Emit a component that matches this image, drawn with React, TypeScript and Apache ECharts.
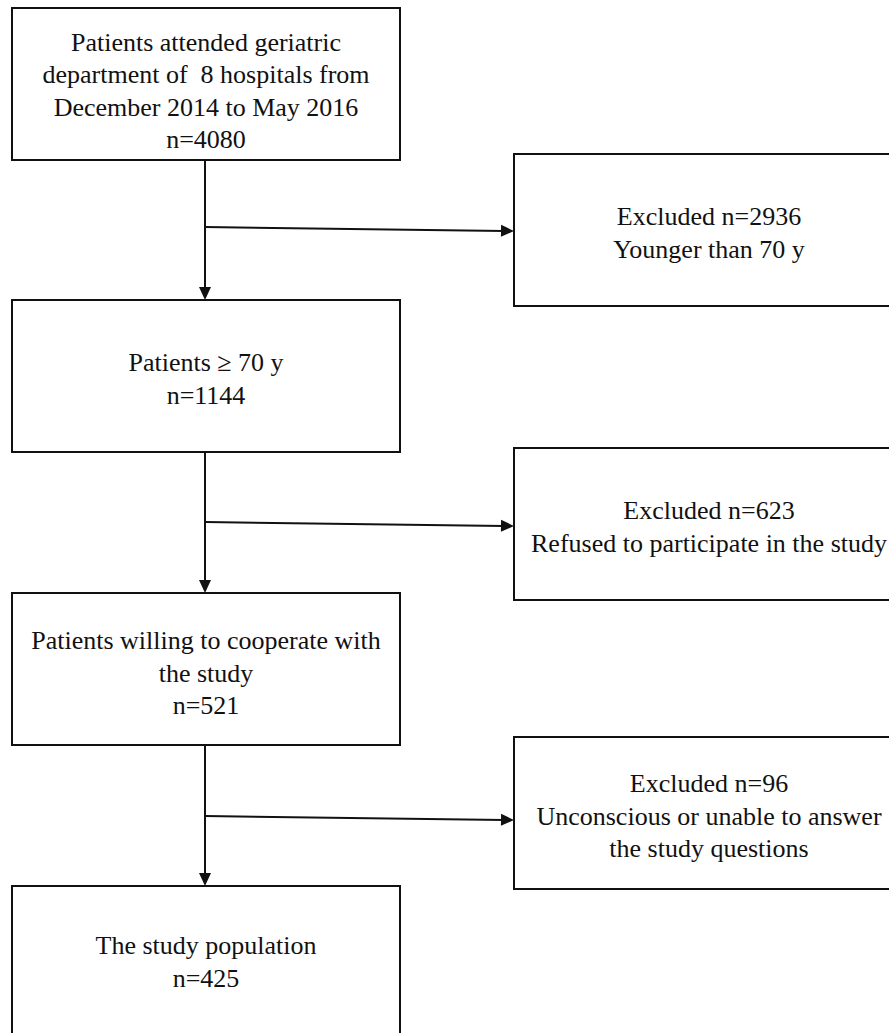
import React, { useEffect, useRef } from "react";
import * as echarts from "echarts";

// ---- data ----
const stepTitles: string[][] = [
  ["Patients attended geriatric", "department of  8 hospitals from", "December 2014 to May 2016"],
  ["Patients \u2265 70 y"],
  ["Patients willing to cooperate with", "the study"],
  ["The study population"],
];
const stepCounts: number[] = [4080, 1144, 521, 425];
const excludedCounts: number[] = [2936, 623, 96];
const excludedReasons: string[][] = [
  ["Younger than 70 y"],
  ["Refused to participate in the study"],
  ["Unconscious or unable to answer", "the study questions"],
];

// ---- layout ----
const LEFT_X = 12;
const LEFT_W = 388;
const BOX_H = 152;
const LEFT_TOPS = [8, 300, 593, 886];
const LEFT_TEXT_DY = [7, 3, 4, 0];
const RIGHT_X = 514;
const RIGHT_W = 390;
const RIGHT_TOPS = [154, 448, 737];
const RIGHT_TEXT_DY = [3, 3, 3];
const TRUNK_X = 205;
const BRANCH_Y0 = [227, 522, 816];
const BRANCH_DY = 4;
const FONT = '26px "Liberation Serif", "Times New Roman", serif';
const LINE_H = 32.5;
const INK = "#111";

function arrowHead(tipX: number, tipY: number, dx: number, dy: number, len = 13, half = 6) {
  const l = Math.hypot(dx, dy);
  const ux = dx / l, uy = dy / l;
  const bx = tipX - ux * len, by = tipY - uy * len;
  const px = -uy, py = ux;
  return {
    type: "polygon",
    shape: { points: [[tipX, tipY], [bx + px * half, by + py * half], [bx - px * half, by - py * half]] },
    style: { fill: INK },
    silent: true,
  };
}

function box(x: number, y: number, w: number, h: number, lines: string[], dy: number) {
  return [
    {
      type: "rect",
      shape: { x, y, width: w, height: h },
      style: { fill: "#fff", stroke: INK, lineWidth: 2 },
      silent: true,
    },
    {
      type: "text",
      x: x + w / 2,
      y: y + h / 2 + dy,
      style: {
        text: lines.join("\n"),
        font: FONT,
        fill: INK,
        align: "center",
        verticalAlign: "middle",
        lineHeight: LINE_H,
      },
      silent: true,
    },
  ];
}

export default function App() {
  const ref = useRef<HTMLDivElement>(null);
  useEffect(() => {
    if (!ref.current) return;
    const chart = echarts.init(ref.current, null, { renderer: "svg" });
    const elements: any[] = [];

    // vertical arrows
    for (let i = 0; i < LEFT_TOPS.length - 1; i++) {
      const y0 = LEFT_TOPS[i] + BOX_H;
      const y1 = LEFT_TOPS[i + 1];
      elements.push({
        type: "line",
        shape: { x1: TRUNK_X, y1: y0, x2: TRUNK_X, y2: y1 - 10 },
        style: { stroke: INK, lineWidth: 2 },
        silent: true,
      });
      elements.push(arrowHead(TRUNK_X, y1, 0, 1));
    }
    // branch arrows
    for (let i = 0; i < excludedCounts.length; i++) {
      const y0 = BRANCH_Y0[i];
      const y1 = y0 + BRANCH_DY;
      elements.push({
        type: "line",
        shape: { x1: TRUNK_X, y1: y0, x2: RIGHT_X - 10, y2: y1 },
        style: { stroke: INK, lineWidth: 2 },
        silent: true,
      });
      elements.push(arrowHead(RIGHT_X, y1, RIGHT_X - TRUNK_X, BRANCH_DY));
    }
    // left boxes
    stepTitles.forEach((t, i) => {
      elements.push(...box(LEFT_X, LEFT_TOPS[i], LEFT_W, BOX_H, [...t, `n=${stepCounts[i]}`], LEFT_TEXT_DY[i]));
    });
    // right boxes
    excludedCounts.forEach((c, i) => {
      elements.push(
        ...box(RIGHT_X, RIGHT_TOPS[i], RIGHT_W, BOX_H, [`Excluded n=${c}`, ...excludedReasons[i]], RIGHT_TEXT_DY[i])
      );
    });

    chart.setOption({
      animation: false,
      backgroundColor: "#fff",
      graphic: { elements },
    });
    return () => chart.dispose();
  }, []);
  return (
    <div
      ref={ref}
      style={{ position: "absolute", left: 0, top: 0, width: 889, height: 1033 }}
    />
  );
}
